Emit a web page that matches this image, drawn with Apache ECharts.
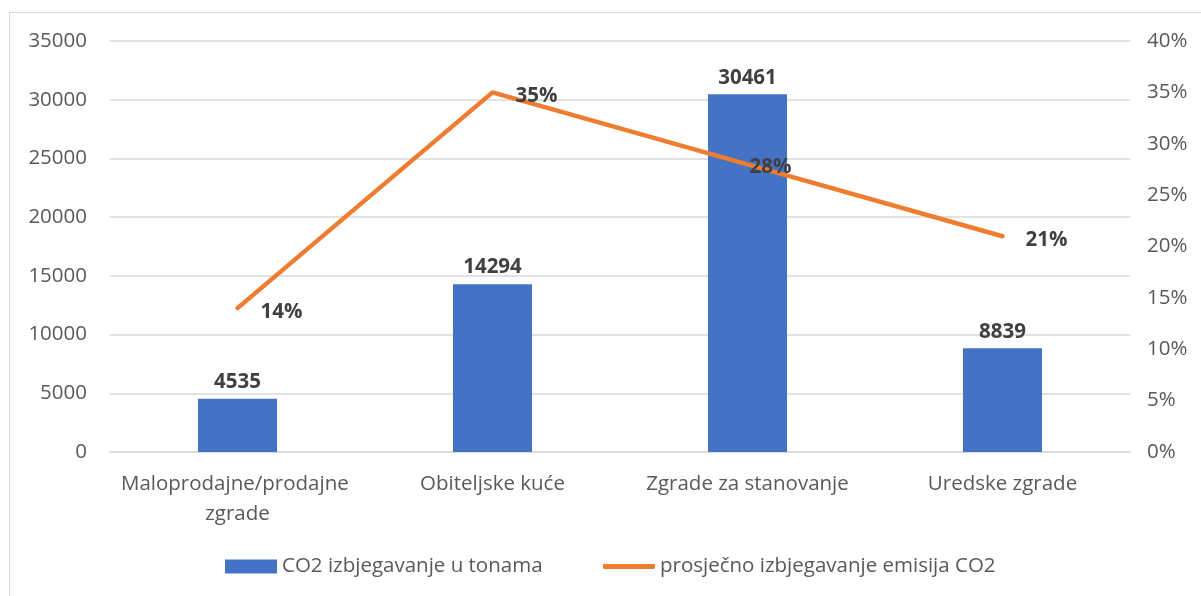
<!DOCTYPE html>
<html><head><meta charset="utf-8">
<script src="https://cdn.jsdelivr.net/npm/echarts@6/dist/echarts.min.js"></script>
<style>html,body{margin:0;padding:0;background:#fff}#c{width:1201px;height:596px}
#frame{position:absolute;left:9px;top:12px;width:1200px;height:600px;border:1px solid #d9d9d9;box-sizing:border-box;pointer-events:none}</style>
</head><body><div id="c"></div><div id="frame"></div>
<script>
const categories = ['Maloprodajne/prodajne zgrade', 'Obiteljske kuće', 'Zgrade za stanovanje', 'Uredske zgrade'];
const co2Tonnes = [4535, 14294, 30461, 8839];
const avgShare = [0.14, 0.35, 0.28, 0.21];
const seriesNames = ['CO2 izbjegavanje u tonama', 'prosječno izbjegavanje emisija CO2'];

const FONT = '"Open Sans", "Noto Sans", sans-serif';
const FS = 20.5;
const chart = echarts.init(document.getElementById('c'));
const lineOffsets = [[17, 4], [17, 4], [-4, 3], [17, 4]];
const legendText = {fontFamily: FONT, fontSize: FS, color: '#595959'};
chart.setOption({
  animation: false,
  textStyle: {fontFamily: FONT},
  grid: {left: 110, right: 71, top: 41, bottom: 144},
  legend: [
    {top: 551, left: 220, itemWidth: 52, itemHeight: 14, itemGap: 6,
     textStyle: legendText, data: [{name: seriesNames[0], icon: 'rect'}]},
    {top: 551, left: 598, itemWidth: 52, itemHeight: 5, itemGap: 6,
     textStyle: legendText,
     data: [{name: seriesNames[1], icon: 'roundRect', itemStyle: {color: '#ED7D31'}}]}
  ],
  xAxis: {
    type: 'category', data: categories,
    axisLine: {lineStyle: {color: '#d9d9d9', width: 1.5}},
    axisTick: {show: false},
    axisLabel: {fontFamily: FONT, fontSize: FS, color: '#595959', margin: 17, lineHeight: 30,
      width: 250, overflow: 'break', interval: 0}
  },
  yAxis: [
    {type: 'value', min: 0, max: 35000, interval: 5000,
     axisLine: {show: false}, axisTick: {show: false},
     splitLine: {lineStyle: {color: '#d9d9d9', width: 1.5}},
     axisLabel: {fontFamily: FONT, fontSize: FS, color: '#595959', margin: 23, formatter: v => String(v)}},
    {type: 'value', min: 0, max: 0.4, interval: 0.05,
     axisLine: {show: false}, axisTick: {show: false}, splitLine: {show: false},
     axisLabel: {fontFamily: FONT, fontSize: FS, color: '#595959', margin: 17,
       formatter: v => Math.round(v * 100) + '%'}}
  ],
  series: [
    {name: seriesNames[0], type: 'bar', data: co2Tonnes, barWidth: '31%',
     itemStyle: {color: '#4472C4'},
     label: {show: true, position: 'top', distance: 6, fontFamily: FONT, fontSize: FS,
       fontWeight: 'bold', color: '#404040'}},
    {name: seriesNames[1], type: 'line', yAxisIndex: 1,
     data: avgShare.map((v, i) => ({value: v, label: {offset: lineOffsets[i]}})),
     showSymbol: true, symbol: 'circle', symbolSize: 2,
     lineStyle: {color: '#ED7D31', width: 4.5, cap: 'round'},
     itemStyle: {color: '#ED7D31'},
     label: {show: true, position: 'right', fontFamily: FONT, fontSize: FS, fontWeight: 'bold',
       color: '#404040', formatter: p => Math.round(p.value * 100) + '%'}}
  ]
});
</script></body></html>
